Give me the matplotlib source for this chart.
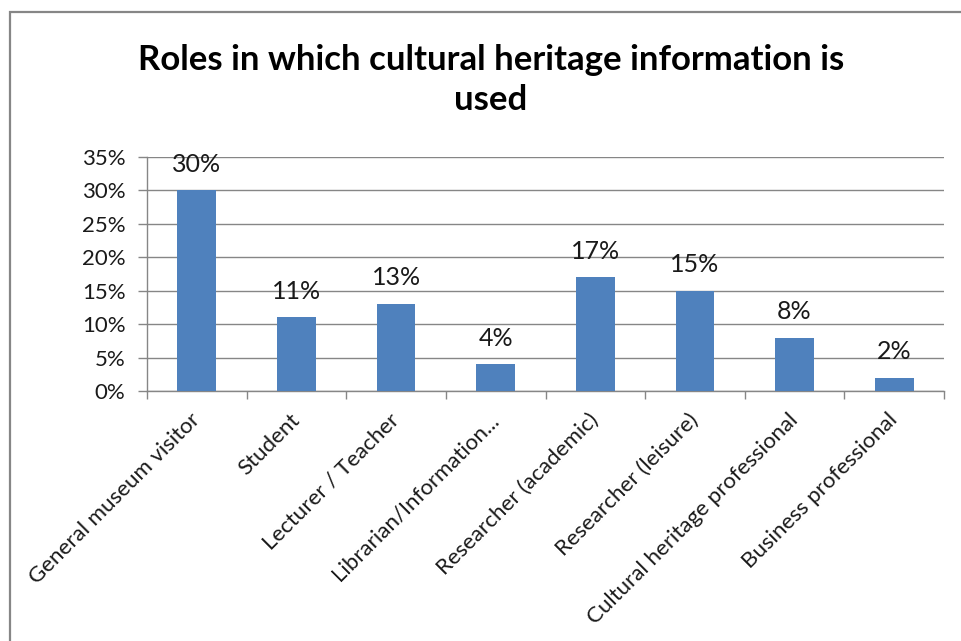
import matplotlib
matplotlib.use("Agg")
import matplotlib.pyplot as plt
import matplotlib.transforms as mtransforms
from matplotlib.patches import Rectangle
from matplotlib.ticker import FixedLocator, PercentFormatter
import numpy as np

roles = [
    "General museum visitor",
    "Student",
    "Lecturer / Teacher",
    "Librarian/Information...",
    "Researcher (academic)",
    "Researcher (leisure)",
    "Cultural heritage professional",
    "Business professional",
]
shares = [30, 11, 13, 4, 17, 15, 8, 2]
y_ticks = [0, 5, 10, 15, 20, 25, 30, 35]
title = "Roles in which cultural heritage information is\nused"

plt.rcParams["font.family"] = ["Lato", "DejaVu Sans"]

W, H = 961, 641
fig = plt.figure(figsize=(W / 100, H / 100), dpi=100)
fig.patch.set_facecolor("white")

# chart-area frame (open towards right and bottom edges)
fig.patches.append(Rectangle((10 / W, -0.05), 1.2, 1 - 12 / H + 0.05,
                             transform=fig.transFigure, fill=False,
                             edgecolor="#868686", linewidth=1.6))

left, right, top, bottom = 147, 944, 157, 391
ax = fig.add_axes([left / W, 1 - bottom / H, (right - left) / W, (bottom - top) / H])

x = np.arange(len(roles))
ax.bar(x, shares, width=0.39, color="#4F81BD", zorder=3)
ax.set_xlim(-0.5, len(roles) - 0.5)
ax.set_ylim(0, 35)

ax.yaxis.set_major_locator(FixedLocator(y_ticks))
ax.yaxis.set_major_formatter(PercentFormatter(decimals=0))
ax.grid(axis="y", color="#868686", linewidth=1.0, zorder=0)
ax.tick_params(axis="y", length=6.5, width=1, color="#868686", pad=9,
               labelsize=16, labelcolor="#1a1a1a")

for s in ("top", "right"):
    ax.spines[s].set_visible(False)
for s in ("left", "bottom"):
    ax.spines[s].set_color("#868686")
    ax.spines[s].set_linewidth(1.0)

# category boundary tick marks below the axis
ax.set_xticks(x)
ax.tick_params(axis="x", which="major", length=0)
ax.set_xticks(np.arange(-0.5, len(roles) + 0.5, 1), minor=True)
ax.tick_params(axis="x", which="minor", length=6, width=1, color="#868686")
ax.set_xticklabels([])

offset = mtransforms.ScaledTranslation(0 / 100, -26 / 100, fig.dpi_scale_trans)
for xi, lab in zip(x, roles):
    ax.text(xi, 0, lab, rotation=45, rotation_mode="anchor", ha="right", va="center",
            fontsize=16, color="#1a1a1a",
            transform=ax.get_xaxis_transform() + offset)

for xi, v in zip(x, shares):
    ax.annotate(f"{v}%", (xi, v), xytext=(0, 13.5), textcoords="offset points",
                ha="center", va="baseline", fontsize=18, color="#1a1a1a")

fig.text(491 / W, 1 - 80 / H, title, ha="center", va="center", fontsize=25,
         fontweight="bold", color="black", linespacing=1.33)

fig.savefig("out.png", dpi=100)
